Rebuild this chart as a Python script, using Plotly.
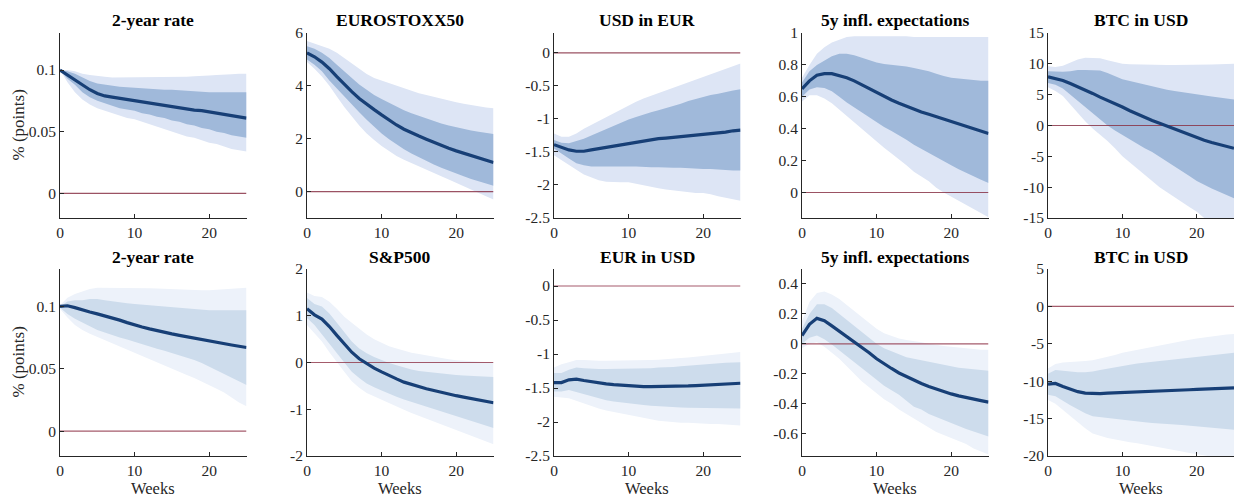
import plotly.graph_objects as go

# ---------------- data ----------------
weeks = list(range(26))

titles = ["2-year rate", "EUROSTOXX50", "USD in EUR", "5y infl. expectations", "BTC in USD",
          "2-year rate", "S&P500", "EUR in USD", "5y infl. expectations", "BTC in USD"]

# top row
rate_ea_med = [0.100,0.096,0.092,0.088,0.084,0.081,0.079,0.078,0.077,0.0765,0.0755,0.0745,0.0735,0.0725,0.0715,0.0705,0.0695,0.0685,0.0675,0.067,0.066,0.065,0.064,0.063,0.062,0.061]
rate_ea_in_up = [0.100,0.099,0.097,0.094,0.091,0.089,0.088,0.087,0.0865,0.086,0.0855,0.085,0.085,0.0845,0.084,0.084,0.0835,0.083,0.083,0.0825,0.082,0.082,0.082,0.082,0.082,0.082]
rate_ea_in_lo = [0.100,0.093,0.088,0.082,0.078,0.075,0.073,0.071,0.069,0.068,0.067,0.065,0.064,0.062,0.061,0.059,0.058,0.056,0.055,0.053,0.052,0.050,0.049,0.047,0.046,0.045]
rate_ea_out_up = [0.100,0.100,0.099,0.097,0.096,0.095,0.0945,0.094,0.094,0.094,0.094,0.094,0.094,0.094,0.094,0.094,0.0945,0.0945,0.095,0.095,0.0955,0.096,0.096,0.0965,0.097,0.097]
rate_ea_out_lo = [0.100,0.090,0.082,0.076,0.072,0.069,0.067,0.065,0.063,0.061,0.060,0.058,0.056,0.054,0.052,0.050,0.048,0.046,0.045,0.043,0.041,0.040,0.038,0.036,0.035,0.034]

stoxx_med = [5.25,5.1,4.9,4.65,4.35,4.05,3.78,3.52,3.3,3.1,2.9,2.7,2.52,2.36,2.22,2.1,1.98,1.86,1.75,1.64,1.54,1.45,1.36,1.27,1.18,1.1]
stoxx_in_up = [5.5,5.4,5.25,5.05,4.8,4.55,4.3,4.05,3.85,3.65,3.5,3.35,3.2,3.08,2.96,2.86,2.76,2.67,2.58,2.5,2.43,2.37,2.31,2.26,2.21,2.18]
stoxx_in_lo = [5.0,4.8,4.55,4.2,3.9,3.6,3.3,3.0,2.72,2.45,2.2,1.98,1.78,1.6,1.44,1.29,1.15,1.02,0.9,0.79,0.68,0.58,0.48,0.38,0.3,0.22]
stoxx_out_up = [5.7,5.6,5.5,5.4,5.25,5.05,4.85,4.65,4.45,4.3,4.2,4.1,4.0,3.9,3.8,3.72,3.65,3.58,3.5,3.43,3.38,3.32,3.27,3.22,3.18,3.15]
stoxx_out_lo = [4.9,4.65,4.35,4.0,3.6,3.2,2.85,2.5,2.2,1.95,1.72,1.52,1.35,1.2,1.06,0.94,0.82,0.7,0.58,0.46,0.35,0.22,0.1,-0.05,-0.18,-0.3]

usdeur_med = [-1.39,-1.43,-1.47,-1.49,-1.49,-1.47,-1.45,-1.43,-1.41,-1.39,-1.37,-1.35,-1.33,-1.31,-1.3,-1.29,-1.28,-1.27,-1.26,-1.24,-1.23,-1.22,-1.21,-1.2,-1.18,-1.17]
usdeur_in_up = [-1.32,-1.36,-1.37,-1.34,-1.3,-1.25,-1.2,-1.15,-1.1,-1.05,-1.01,-0.97,-0.93,-0.9,-0.87,-0.84,-0.8,-0.77,-0.73,-0.7,-0.66,-0.64,-0.62,-0.59,-0.57,-0.55]
usdeur_in_lo = [-1.45,-1.52,-1.6,-1.67,-1.7,-1.72,-1.72,-1.72,-1.72,-1.72,-1.72,-1.72,-1.72,-1.73,-1.73,-1.73,-1.74,-1.74,-1.75,-1.75,-1.76,-1.76,-1.77,-1.77,-1.78,-1.78]
usdeur_out_up = [-1.22,-1.27,-1.27,-1.22,-1.15,-1.09,-1.03,-0.97,-0.91,-0.85,-0.79,-0.74,-0.69,-0.65,-0.6,-0.56,-0.52,-0.48,-0.44,-0.4,-0.36,-0.32,-0.28,-0.24,-0.2,-0.16]
usdeur_out_lo = [-1.55,-1.62,-1.7,-1.77,-1.84,-1.89,-1.93,-1.95,-1.96,-1.96,-1.96,-1.98,-2.0,-2.03,-2.05,-2.07,-2.09,-2.1,-2.11,-2.12,-2.12,-2.14,-2.17,-2.2,-2.22,-2.24]

infl_ea_med = [0.65,0.70,0.735,0.745,0.745,0.735,0.72,0.70,0.675,0.65,0.625,0.60,0.58,0.56,0.54,0.52,0.505,0.49,0.475,0.46,0.445,0.43,0.415,0.40,0.385,0.37]
infl_ea_in_up = [0.69,0.76,0.80,0.83,0.855,0.87,0.87,0.86,0.845,0.83,0.815,0.805,0.80,0.795,0.79,0.78,0.77,0.76,0.745,0.73,0.72,0.715,0.71,0.705,0.70,0.70]
infl_ea_in_lo = [0.60,0.645,0.66,0.655,0.635,0.60,0.565,0.53,0.50,0.47,0.44,0.41,0.385,0.36,0.33,0.30,0.275,0.25,0.22,0.195,0.17,0.145,0.12,0.10,0.08,0.06]
infl_ea_out_up = [0.72,0.80,0.87,0.91,0.94,0.96,0.975,0.98,0.98,0.98,0.98,0.98,0.98,0.98,0.98,0.975,0.975,0.975,0.975,0.975,0.975,0.975,0.975,0.975,0.975,0.975]
infl_ea_out_lo = [0.57,0.61,0.61,0.59,0.56,0.52,0.48,0.44,0.40,0.36,0.32,0.28,0.245,0.21,0.17,0.13,0.10,0.07,0.03,0.0,-0.03,-0.055,-0.08,-0.105,-0.13,-0.155]

btc_top_med = [7.9,7.6,7.3,6.8,6.3,5.8,5.2,4.6,4.1,3.5,3.0,2.4,1.85,1.3,0.8,0.35,-0.1,-0.55,-1.0,-1.5,-2.0,-2.4,-2.75,-3.1,-3.4,-3.7]
btc_top_in_up = [8.8,8.7,8.7,8.8,9.0,9.0,9.0,8.9,8.5,8.0,7.5,7.2,6.9,6.6,6.3,6.0,5.8,5.6,5.4,5.2,5.0,4.85,4.7,4.55,4.4,4.2]
btc_top_in_lo = [6.9,6.6,6.0,5.0,4.0,3.0,2.0,1.0,0.0,-0.8,-1.5,-2.3,-3.0,-3.7,-4.3,-5.0,-5.8,-6.6,-7.4,-8.2,-9.0,-9.6,-10.2,-10.8,-11.3,-11.8]
btc_top_out_up = [9.6,9.5,9.7,10.2,10.7,11.0,11.0,10.9,10.6,10.3,10.0,9.95,9.9,9.85,9.8,9.8,9.8,9.8,9.8,9.8,9.8,9.85,9.9,9.95,10.0,10.0]
btc_top_out_lo = [6.2,5.6,4.8,3.4,2.0,0.7,-0.5,-1.5,-2.5,-3.7,-5.0,-6.0,-7.0,-8.0,-9.0,-10.0,-10.8,-11.6,-12.4,-13.2,-14.0,-15.0,-16.0,-17.0,-18.0,-19.0]

# bottom row
rate_us_med = [0.100,0.1005,0.099,0.097,0.0955,0.094,0.0925,0.091,0.089,0.087,0.085,0.0835,0.082,0.0805,0.079,0.078,0.0768,0.0756,0.0744,0.0732,0.072,0.071,0.070,0.069,0.068,0.067]
rate_us_in_up = [0.100,0.104,0.105,0.105,0.106,0.106,0.105,0.104,0.103,0.1025,0.102,0.1015,0.101,0.100,0.0995,0.099,0.0985,0.098,0.0975,0.097,0.097,0.097,0.097,0.097,0.097,0.097]
rate_us_in_lo = [0.099,0.094,0.090,0.087,0.084,0.081,0.079,0.077,0.075,0.0735,0.072,0.070,0.068,0.066,0.0645,0.063,0.061,0.059,0.057,0.0545,0.052,0.049,0.046,0.043,0.040,0.037]
rate_us_out_up = [0.101,0.107,0.110,0.112,0.114,0.115,0.115,0.115,0.115,0.115,0.115,0.1148,0.1145,0.1143,0.114,0.114,0.1138,0.1135,0.1133,0.113,0.113,0.1135,0.114,0.1145,0.115,0.115]
rate_us_out_lo = [0.098,0.091,0.085,0.081,0.078,0.075,0.0725,0.070,0.0675,0.065,0.063,0.0605,0.058,0.0555,0.053,0.050,0.0475,0.045,0.0425,0.040,0.037,0.034,0.031,0.027,0.023,0.020]

sp500_med = [1.15,1.02,0.93,0.77,0.58,0.39,0.22,0.08,-0.03,-0.12,-0.2,-0.28,-0.35,-0.42,-0.47,-0.52,-0.56,-0.6,-0.64,-0.68,-0.71,-0.74,-0.77,-0.8,-0.83,-0.86]
sp500_in_up = [1.38,1.25,1.2,1.05,0.85,0.65,0.45,0.3,0.2,0.12,0.05,-0.01,-0.06,-0.11,-0.15,-0.18,-0.2,-0.22,-0.24,-0.26,-0.27,-0.28,-0.29,-0.3,-0.31,-0.31]
sp500_in_lo = [0.95,0.8,0.6,0.4,0.2,0.0,-0.2,-0.33,-0.45,-0.53,-0.6,-0.67,-0.73,-0.79,-0.85,-0.9,-0.95,-1.0,-1.05,-1.1,-1.15,-1.2,-1.25,-1.3,-1.35,-1.4]
sp500_out_up = [1.5,1.42,1.4,1.3,1.15,0.98,0.85,0.72,0.6,0.5,0.42,0.35,0.3,0.25,0.21,0.18,0.15,0.12,0.1,0.07,0.05,0.04,0.03,0.02,0.01,0.0]
sp500_out_lo = [0.8,0.62,0.45,0.22,0.0,-0.2,-0.4,-0.54,-0.65,-0.73,-0.8,-0.87,-0.94,-1.01,-1.08,-1.15,-1.21,-1.27,-1.33,-1.39,-1.45,-1.51,-1.57,-1.63,-1.69,-1.75]

eurusd_med = [-1.42,-1.42,-1.38,-1.37,-1.39,-1.41,-1.42,-1.44,-1.45,-1.46,-1.47,-1.475,-1.48,-1.48,-1.48,-1.48,-1.48,-1.475,-1.47,-1.465,-1.46,-1.455,-1.45,-1.44,-1.435,-1.43]
eurusd_in_up = [-1.28,-1.28,-1.23,-1.2,-1.21,-1.22,-1.22,-1.22,-1.22,-1.22,-1.22,-1.22,-1.21,-1.21,-1.2,-1.2,-1.19,-1.18,-1.17,-1.165,-1.16,-1.15,-1.14,-1.13,-1.125,-1.12]
eurusd_in_lo = [-1.55,-1.55,-1.53,-1.55,-1.58,-1.62,-1.65,-1.68,-1.7,-1.71,-1.72,-1.74,-1.75,-1.76,-1.77,-1.78,-1.78,-1.785,-1.79,-1.79,-1.79,-1.795,-1.8,-1.8,-1.8,-1.8]
eurusd_out_up = [-1.2,-1.15,-1.12,-1.09,-1.09,-1.1,-1.1,-1.1,-1.1,-1.1,-1.1,-1.1,-1.09,-1.09,-1.085,-1.08,-1.07,-1.06,-1.05,-1.04,-1.03,-1.02,-1.0,-0.99,-0.98,-0.97]
eurusd_out_lo = [-1.63,-1.64,-1.65,-1.68,-1.72,-1.76,-1.8,-1.83,-1.86,-1.88,-1.9,-1.92,-1.94,-1.96,-1.98,-2.0,-2.0,-2.01,-2.01,-2.02,-2.02,-2.03,-2.03,-2.04,-2.04,-2.05]

infl_us_med = [0.055,0.13,0.17,0.155,0.12,0.085,0.05,0.015,-0.02,-0.06,-0.1,-0.135,-0.165,-0.195,-0.22,-0.245,-0.265,-0.285,-0.303,-0.32,-0.335,-0.348,-0.36,-0.37,-0.38,-0.39]
infl_us_in_up = [0.1,0.2,0.265,0.265,0.24,0.2,0.16,0.12,0.08,0.04,0.0,-0.03,-0.05,-0.07,-0.09,-0.1,-0.11,-0.12,-0.13,-0.14,-0.15,-0.16,-0.165,-0.17,-0.175,-0.18]
infl_us_in_lo = [0.0,0.04,0.055,0.03,-0.005,-0.04,-0.08,-0.12,-0.16,-0.2,-0.24,-0.28,-0.31,-0.34,-0.38,-0.42,-0.44,-0.47,-0.49,-0.51,-0.53,-0.55,-0.57,-0.59,-0.605,-0.62]
infl_us_out_up = [0.15,0.28,0.34,0.35,0.33,0.3,0.26,0.22,0.18,0.14,0.1,0.07,0.05,0.035,0.025,0.02,0.01,0.0,-0.01,-0.015,-0.02,-0.025,-0.03,-0.035,-0.04,-0.04]
infl_us_out_lo = [-0.03,0.0,0.01,-0.02,-0.06,-0.1,-0.15,-0.2,-0.25,-0.29,-0.33,-0.37,-0.4,-0.44,-0.47,-0.5,-0.53,-0.56,-0.59,-0.61,-0.63,-0.65,-0.67,-0.7,-0.72,-0.74]

btc_bot_med = [-10.4,-10.3,-10.7,-11.1,-11.4,-11.6,-11.65,-11.65,-11.6,-11.55,-11.5,-11.46,-11.42,-11.38,-11.34,-11.3,-11.26,-11.22,-11.18,-11.14,-11.1,-11.06,-11.02,-10.98,-10.94,-10.9]
btc_bot_in_up = [-9.0,-8.5,-8.6,-8.7,-8.8,-8.8,-8.7,-8.5,-8.3,-8.1,-7.9,-7.8,-7.65,-7.5,-7.4,-7.3,-7.2,-7.1,-7.0,-6.85,-6.7,-6.6,-6.5,-6.4,-6.3,-6.2]
btc_bot_in_lo = [-11.8,-12.0,-12.6,-13.2,-13.8,-14.3,-14.7,-14.9,-15.0,-15.1,-15.2,-15.3,-15.4,-15.5,-15.6,-15.7,-15.75,-15.8,-15.85,-15.9,-16.0,-16.1,-16.2,-16.3,-16.4,-16.5]
btc_bot_out_up = [-8.3,-7.7,-7.5,-7.4,-7.35,-7.3,-7.2,-7.0,-6.75,-6.5,-6.2,-6.0,-5.8,-5.6,-5.4,-5.2,-5.0,-4.8,-4.6,-4.45,-4.3,-4.15,-4.0,-3.85,-3.75,-3.7]
btc_bot_out_lo = [-12.5,-13.0,-13.8,-14.6,-15.5,-16.3,-17.0,-17.3,-17.6,-17.8,-18.0,-18.15,-18.3,-18.45,-18.6,-18.8,-19.0,-19.2,-19.4,-19.6,-19.8,-19.95,-20.1,-20.25,-20.4,-20.5]

# axis ranges and ticks
y_ranges = [[-0.02, 0.13], [-1, 6], [-2.5, 0.3], [-0.16, 1], [-15, 15],
            [-0.02, 0.13], [-2, 2], [-2.5, 0.25], [-0.75, 0.5], [-20, 5]]
y_tickvals = [[0, 0.05, 0.1], [0, 2, 4, 6], [-2.5, -2, -1.5, -1, -0.5, 0], [0, 0.2, 0.4, 0.6, 0.8, 1], [-15, -10, -5, 0, 5, 10, 15],
              [0, 0.05, 0.1], [-2, -1, 0, 1, 2], [-2.5, -2, -1.5, -1, -0.5, 0], [-0.6, -0.4, -0.2, 0, 0.2, 0.4], [-20, -15, -10, -5, 0, 5]]
y_ticktext = [["0", "0.05", "0.1"], ["0", "2", "4", "6"], ["-2.5", "-2", "-1.5", "-1", "-0.5", "0"],
              ["0", "0.2", "0.4", "0.6", "0.8", "1"], ["-15", "-10", "-5", "0", "5", "10", "15"],
              ["0", "0.05", "0.1"], ["-2", "-1", "0", "1", "2"], ["-2.5", "-2", "-1.5", "-1", "-0.5", "0"],
              ["-0.6", "-0.4", "-0.2", "0", "0.2", "0.4"], ["-20", "-15", "-10", "-5", "0", "5"]]
x_tickvals = [0, 10, 20]
x_ticktext = ["0", "10", "20"]
x_range = [0, 25]
y_label = "% (points)"
x_label = "Weeks"

series = [
    (rate_ea_med, rate_ea_in_up, rate_ea_in_lo, rate_ea_out_up, rate_ea_out_lo),
    (stoxx_med, stoxx_in_up, stoxx_in_lo, stoxx_out_up, stoxx_out_lo),
    (usdeur_med, usdeur_in_up, usdeur_in_lo, usdeur_out_up, usdeur_out_lo),
    (infl_ea_med, infl_ea_in_up, infl_ea_in_lo, infl_ea_out_up, infl_ea_out_lo),
    (btc_top_med, btc_top_in_up, btc_top_in_lo, btc_top_out_up, btc_top_out_lo),
    (rate_us_med, rate_us_in_up, rate_us_in_lo, rate_us_out_up, rate_us_out_lo),
    (sp500_med, sp500_in_up, sp500_in_lo, sp500_out_up, sp500_out_lo),
    (eurusd_med, eurusd_in_up, eurusd_in_lo, eurusd_out_up, eurusd_out_lo),
    (infl_us_med, infl_us_in_up, infl_us_in_lo, infl_us_out_up, infl_us_out_lo),
    (btc_bot_med, btc_bot_in_up, btc_bot_in_lo, btc_bot_out_up, btc_bot_out_lo),
]

# ---------------- style ----------------
W, H = 1234, 497
FONT = "Liberation Serif, Times New Roman, serif"
AX = "#262626"
LINE = "#173f76"
OUTER = ["#dde5f5", "#edf2fa"]
INNER = ["#a0b9da", "#cddcec"]
ZERO = ["#8a3448", "#953f52"]
lefts_px = [60, 307, 554, 802, 1048]
width_px = 186.5
rows_px = [(33, 218), (269, 456)]
title_y_px = [20, 257]

fig = go.Figure()
layout = dict(width=W, height=H, margin=dict(l=0, r=0, t=0, b=0, pad=0), autosize=False,
              paper_bgcolor="white", plot_bgcolor="white", showlegend=False,
              font=dict(family=FONT, color=AX, size=15))
annotations = []

for k, (med, in_up, in_lo, out_up, out_lo) in enumerate(series):
    r, c = divmod(k, 5)
    xa = "x" if k == 0 else f"x{k+1}"
    ya = "y" if k == 0 else f"y{k+1}"
    xs_poly = weeks + weeks[::-1]
    fig.add_trace(go.Scatter(x=xs_poly, y=out_up + out_lo[::-1], fill="toself", fillcolor=OUTER[r],
                             line=dict(width=0), mode="lines", hoverinfo="skip", xaxis=xa, yaxis=ya))
    fig.add_trace(go.Scatter(x=xs_poly, y=in_up + in_lo[::-1], fill="toself", fillcolor=INNER[r],
                             line=dict(width=0), mode="lines", hoverinfo="skip", xaxis=xa, yaxis=ya))
    fig.add_trace(go.Scatter(x=[weeks[0], weeks[-1]], y=[0, 0], mode="lines",
                             line=dict(color=ZERO[r], width=1.2), opacity=0.85, hoverinfo="skip",
                             xaxis=xa, yaxis=ya))
    fig.add_trace(go.Scatter(x=weeks, y=med, mode="lines", line=dict(color=LINE, width=3.2),
                             xaxis=xa, yaxis=ya))

    x0 = lefts_px[c] / W
    x1 = min((lefts_px[c] + width_px) / W, 1.0)
    top, bot = rows_px[r]
    y0 = (H - bot) / H
    y1 = (H - top) / H
    xkey = "xaxis" if k == 0 else f"xaxis{k+1}"
    ykey = "yaxis" if k == 0 else f"yaxis{k+1}"
    layout[xkey] = dict(domain=[x0, x1], anchor=ya, range=x_range, tickvals=x_tickvals, ticktext=x_ticktext,
                        showline=True, linecolor=AX, linewidth=1, ticks="inside", ticklen=4, tickcolor=AX,
                        showgrid=False, zeroline=False, automargin=False,
                        tickfont=dict(family=FONT, size=15.5, color=AX), fixedrange=True)
    layout[ykey] = dict(domain=[y0, y1], anchor=xa, range=y_ranges[k], tickvals=y_tickvals[k], ticktext=y_ticktext[k],
                        showline=True, linecolor=AX, linewidth=1, ticks="inside", ticklen=4, tickcolor=AX,
                        showgrid=False, zeroline=False, automargin=False,
                        tickfont=dict(family=FONT, size=15.5, color=AX), fixedrange=True)
    annotations.append(dict(text=f"<b>{titles[k]}</b>", x=(x0 + x1) / 2, y=(H - title_y_px[r]) / H,
                            xref="paper", yref="paper", showarrow=False, xanchor="center", yanchor="middle",
                            font=dict(family=FONT, size=17.5, color="black")))
    if r == 1:
        annotations.append(dict(text=x_label, x=(x0 + x1) / 2, y=(H - 488) / H, xref="paper", yref="paper",
                                showarrow=False, xanchor="center", yanchor="middle",
                                font=dict(family=FONT, size=16.5, color=AX)))
    if c == 0:
        annotations.append(dict(text=y_label, x=18 / W, y=(H - (top + bot) / 2) / H, xref="paper", yref="paper",
                                showarrow=False, xanchor="center", yanchor="middle", textangle=-90,
                                font=dict(family=FONT, size=17, color=AX)))

layout["annotations"] = annotations
fig.update_layout(**layout)
fig.write_html("out.html", config=dict(displayModeBar=False),
               post_script="document.body.style.margin='0';document.body.style.padding='0';document.body.style.overflow='hidden';")
